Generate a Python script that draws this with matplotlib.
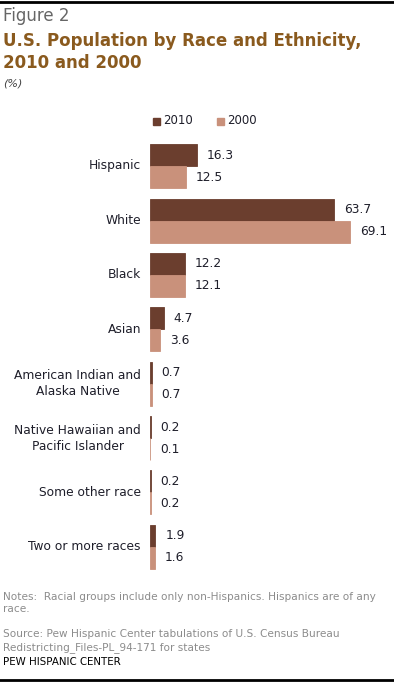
import matplotlib.pyplot as plt
import numpy as np

categories = ['Hispanic', 'White', 'Black', 'Asian',
              'American Indian and\nAlaska Native',
              'Native Hawaiian and\nPacific Islander',
              'Some other race', 'Two or more races']
vals_2010 = [16.3, 63.7, 12.2, 4.7, 0.7, 0.2, 0.2, 1.9]
vals_2000 = [12.5, 69.1, 12.1, 3.6, 0.7, 0.1, 0.2, 1.6]
years = ['2010', '2000']

c2010 = '#6b3e2e'
c2000 = '#c9917b'
title_col = '#8a5a1e'
text_col = '#1e1e2a'

plt.rcParams['font.family'] = ['DejaVu Sans']

fig = plt.figure(figsize=(3.94, 6.82), dpi=100)
W, H = 394, 682

# axes: left edge at 150px, x scale ~2.894 px per point
ax = fig.add_axes([150 / W, 108 / H, 230 / W, 435 / H])
y = np.arange(len(categories))
h = 0.404
# thin edge so tiny values still show as a sliver, like the original
ax.barh(y - h / 2, vals_2010, height=h, color=c2010, edgecolor=c2010, lw=0.6)
ax.barh(y + h / 2, vals_2000, height=h, color=c2000, edgecolor=c2000, lw=0.6)
ax.set_xlim(0, 230 / 2.894)
ax.set_ylim(len(categories) - 0.5, -0.5)
ax.axis('off')

for i in range(len(categories)):
    for v, off in ((vals_2010[i], -h / 2), (vals_2000[i], h / 2)):
        ax.annotate(f'{v:.1f}', (v, i + off), xytext=(7, 0), textcoords='offset points',
                    ha='left', va='center', fontsize=8.8, color=text_col)
    fig.text(141 / W, 1 - (166 + i * 54.4) / H, categories[i], ha='right', va='center',
             multialignment='center', fontsize=8.8, color=text_col, linespacing=1.3)

# header
fig.add_artist(plt.Line2D([0, 1], [1 - 1.5 / H, 1 - 1.5 / H], color='black', lw=2))
fig.text(3 / W, 1 - 16 / H, 'Figure 2', fontsize=12, color='#666666', va='center')
fig.text(3 / W, 1 - 52 / H, 'U.S. Population by Race and Ethnicity,\n2010 and 2000',
         fontsize=12, fontweight='bold', color=title_col, va='center', linespacing=1.3)
fig.text(3 / W, 1 - 84 / H, '(%)', fontsize=8, style='italic', color='#444444', va='center')

# legend
for x0, col, lab in ((153, c2010, years[0]), (217, c2000, years[1])):
    fig.add_artist(plt.Rectangle((x0 / W, 1 - 125 / H), 7 / W, 7 / H,
                                 transform=fig.transFigure, color=col))
    fig.text((x0 + 10) / W, 1 - 121 / H, lab, fontsize=8.5, color=text_col, va='center')

# footer
note_col = '#8c8c8c'
fig.text(3 / W, 1 - 603 / H,
         'Notes:  Racial groups include only non-Hispanics. Hispanics are of any\nrace.',
         fontsize=7.6, color=note_col, va='center', linespacing=1.3)
fig.text(3 / W, 1 - 641 / H,
         'Source: Pew Hispanic Center tabulations of U.S. Census Bureau\n'
         'Redistricting_Files-PL_94-171 for states',
         fontsize=7.6, color=note_col, va='center', linespacing=1.3)
fig.text(3 / W, 1 - 662 / H, 'PEW HISPANIC CENTER', fontsize=7.4, color='black', va='center')
fig.add_artist(plt.Line2D([0, 1], [1 - 680 / H, 1 - 680 / H], color='black', lw=2))

fig.savefig('out.png', dpi=100)
